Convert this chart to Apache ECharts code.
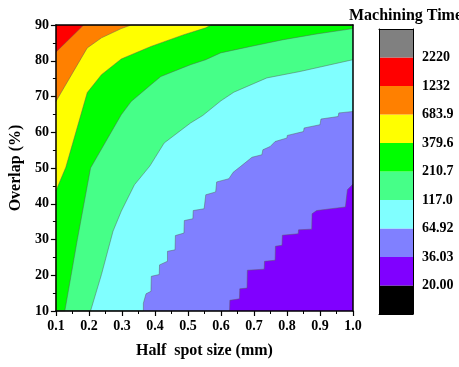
<!DOCTYPE html>
<html>
<head>
<meta charset="utf-8">
<script src="https://cdn.jsdelivr.net/npm/echarts@6/dist/echarts.min.js"></script>
<style>
html, body { margin: 0; padding: 0; background: #fff; }
#main { width: 459px; height: 367px; }
</style>
</head>
<body>
<div id="main"></div>
<script>
// contour level limits shown on the colour bar (bottom to top)
var levelLabels = ['20.00', '36.03', '64.92', '117.0', '210.7', '379.6', '683.9', '1232', '2220'];
var barBoxes = [1, 1, 1, 1, 1, 1, 1, 1, 1, 1];

// upper edge of each filled band, [half spot size (mm), overlap (%)]
var edgeTop = [[0.1, 90], [1.0, 90]];
var edge1232 = [[0.1, 82.4], [0.184, 90], [1.0, 90]];
var edge683 = [[0.1, 68.6], [0.195, 83.6], [0.238, 86.4], [0.298, 89.0], [0.328, 90], [1.0, 90]];
var edge379 = [[0.1, 43.6], [0.13, 50.2], [0.195, 71.1], [0.238, 76.1], [0.298, 80.5], [0.388, 84.0],
    [0.488, 87.3], [0.554, 89.2], [0.57, 90], [1.0, 90]];
var edge210 = [[0.1, 10], [0.127, 10], [0.165, 30], [0.205, 50], [0.298, 64.9], [0.328, 68.6],
    [0.388, 73.3], [0.418, 75.6], [0.508, 78.9], [0.554, 80.3], [0.599, 82.2], [0.69, 84.0],
    [0.789, 85.9], [0.89, 87.5], [1.0, 89.0]];
var edge117 = [[0.1, 10], [0.205, 10], [0.238, 20.2], [0.273, 32.3], [0.298, 37.9], [0.338, 45.3],
    [0.385, 50.6], [0.428, 57.0], [0.508, 62.6], [0.545, 64.7], [0.6, 68.8], [0.639, 71.2],
    [0.739, 75.2], [0.84, 77.0], [1.0, 80.3]];
var edge64 = [[0.1, 10], [0.365, 10], [0.365, 12.2], [0.373, 14.8], [0.388, 15.5], [0.389, 19.7],
    [0.413, 20.2], [0.414, 22.9], [0.438, 23.9], [0.438, 26.7], [0.461, 27.1], [0.462, 31.1],
    [0.488, 31.8], [0.489, 35.3], [0.515, 35.8], [0.516, 38.1], [0.549, 38.6], [0.554, 42.5],
    [0.584, 43.3], [0.587, 46.1], [0.624, 47.0], [0.637, 48.8], [0.659, 50.4], [0.694, 53.0],
    [0.724, 53.7], [0.727, 55.1], [0.749, 56.0], [0.764, 57.4], [0.8, 58.4], [0.801, 59.1],
    [0.85, 60.2], [0.852, 61.2], [0.9, 62.1], [0.903, 63.7], [0.955, 64.4], [0.957, 65.4],
    [1.0, 65.8]];
var edge36 = [[0.1, 10], [0.626, 10], [0.627, 13.0], [0.656, 13.4], [0.657, 16.2], [0.679, 16.4],
    [0.68, 21.4], [0.731, 21.7], [0.732, 23.9], [0.764, 24.2], [0.765, 28.1], [0.785, 28.4],
    [0.786, 31.2], [0.834, 31.6], [0.835, 32.7], [0.875, 32.9], [0.876, 37.2], [0.89, 38.1],
    [0.977, 39.1], [0.983, 43.9], [1.0, 45.5]];

var bandEdges = [edgeTop, edge1232, edge683, edge379, edge210, edge117, edge64, edge36];
var bandColors = ['#FF0000', '#FF8000', '#FFFF00', '#00FF00', '#46FF88', '#80FFFF', '#8080FF', '#8000FF'];
var barColors = ['#000000', '#8000FF', '#8080FF', '#80FFFF', '#46FF88', '#00FF00', '#FFFF00', '#FF8000', '#FF0000', '#808080'];

var font = 'Liberation Serif, Times New Roman, serif';

var chartDom = document.getElementById('main');
var myChart = echarts.init(chartDom);
var option;

var series = bandEdges.map(function (edge, i) {
    return {
        type: 'line',
        xAxisIndex: 0,
        yAxisIndex: 0,
        data: edge,
        symbol: 'none',
        silent: true,
        lineStyle: { color: '#5a5a5a', width: 0.8, opacity: i === 0 ? 0 : 0.6 },
        areaStyle: { color: bandColors[i], opacity: 1, origin: 'start' }
    };
});

barColors.forEach(function (c, i) {
    series.push({
        type: 'bar',
        xAxisIndex: 2,
        yAxisIndex: 2,
        stack: 'bar',
        barWidth: '100%',
        silent: true,
        data: [barBoxes[i]],
        itemStyle: { color: c }
    });
});

var tickText = { color: '#000', fontFamily: font, fontWeight: 'bold', fontSize: 14 };

option = {
    animation: false,
    title: {
        text: 'Machining Time',
        left: 344,
        top: 3,
        textStyle: { color: '#000', fontFamily: font, fontWeight: 'bold', fontSize: 16 }
    },
    grid: [
        { left: 54, right: 106, top: 25, bottom: 56 },
        { left: 379, top: 29, width: 34, height: 285 }
    ],
    xAxis: [
        {
            type: 'value', gridIndex: 0, min: 0.1, max: 1.0, interval: 0.1, z: 10,
            name: 'Half  spot size (mm)', nameLocation: 'middle', nameGap: 32,
            nameTextStyle: { color: '#000', fontFamily: font, fontWeight: 'bold', fontSize: 16 },
            axisLine: { onZero: false, lineStyle: { color: '#000', width: 1.5 } },
            axisTick: { length: 5, lineStyle: { color: '#000', width: 1.2 } },
            minorTick: { show: true, splitNumber: 2, length: 3, lineStyle: { color: '#000', width: 1 } },
            axisLabel: Object.assign({ margin: 8, formatter: function (v) { return v.toFixed(1); } }, tickText),
            splitLine: { show: false }
        },
        {
            type: 'value', gridIndex: 0, position: 'top', min: 0.1, max: 1.0, z: 10,
            axisLine: { onZero: false, lineStyle: { color: '#000', width: 1.5 } },
            axisTick: { show: false }, axisLabel: { show: false }, splitLine: { show: false }
        },
        {
            type: 'category', gridIndex: 1, data: [''], z: 10,
            axisLine: { onZero: false, lineStyle: { color: '#000', width: 1 } },
            axisTick: { show: false }, axisLabel: { show: false }
        },
        {
            type: 'category', gridIndex: 1, position: 'top', data: [''], z: 10,
            axisLine: { onZero: false, lineStyle: { color: '#000', width: 1 } },
            axisTick: { show: false }, axisLabel: { show: false }
        }
    ],
    yAxis: [
        {
            type: 'value', gridIndex: 0, min: 10, max: 90, interval: 10, z: 10,
            name: 'Overlap (%)', nameLocation: 'middle', nameGap: 31,
            nameTextStyle: { color: '#000', fontFamily: font, fontWeight: 'bold', fontSize: 16 },
            axisLine: { onZero: false, lineStyle: { color: '#000', width: 1.5 } },
            axisTick: { length: 5, lineStyle: { color: '#000', width: 1.2 } },
            minorTick: { show: true, splitNumber: 2, length: 3, lineStyle: { color: '#000', width: 1 } },
            axisLabel: Object.assign({ margin: 7 }, tickText),
            splitLine: { show: false }
        },
        {
            type: 'value', gridIndex: 0, position: 'right', min: 10, max: 90, z: 10,
            axisLine: { onZero: false, lineStyle: { color: '#000', width: 1.5 } },
            axisTick: { show: false }, axisLabel: { show: false }, splitLine: { show: false }
        },
        {
            type: 'value', gridIndex: 1, position: 'right', min: 0, max: 10, interval: 1, z: 10,
            axisLine: { show: true, onZero: false, lineStyle: { color: '#000', width: 1 } },
            axisTick: { length: 5, customValues: [1, 2, 3, 4, 5, 6, 7, 8, 9], lineStyle: { color: '#000', width: 1 } },
            axisLabel: Object.assign({
                margin: 9,
                customValues: [1, 2, 3, 4, 5, 6, 7, 8, 9],
                formatter: function (v) { return levelLabels[v - 1] || ''; }
            }, tickText),
            splitLine: { show: false }
        },
        {
            type: 'value', gridIndex: 1, position: 'left', min: 0, max: 10, z: 10,
            axisLine: { show: true, onZero: false, lineStyle: { color: '#000', width: 1 } },
            axisTick: { show: false }, axisLabel: { show: false }, splitLine: { show: false }
        }
    ],
    series: series
};

option && myChart.setOption(option);
window.addEventListener('resize', function () {
    myChart.resize();
});
</script>
</body>
</html>
